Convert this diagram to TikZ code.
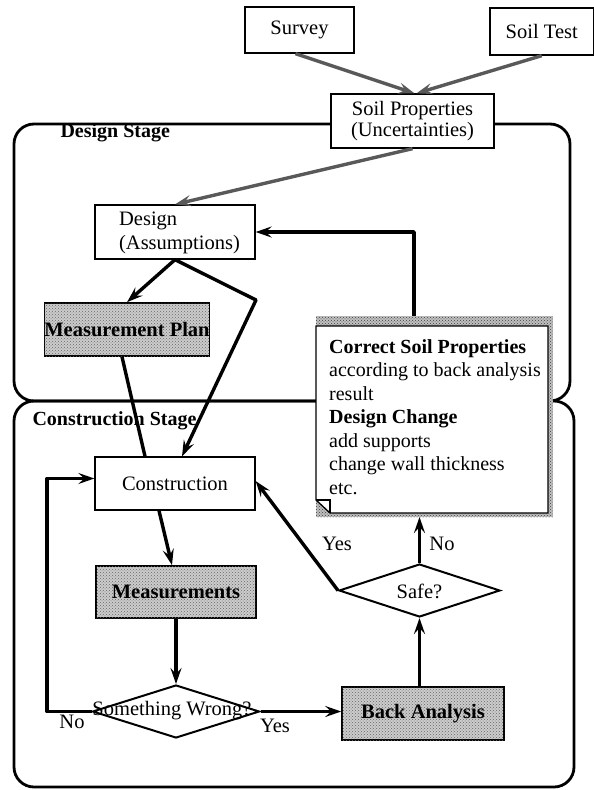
\documentclass[tikz,border=0pt]{standalone}
\usepackage{fontspec}
\setmainfont{Liberation Serif}
\usetikzlibrary{arrows.meta,shapes.geometric,patterns}

\tikzset{
  txt/.style={font=\fontsize{20.5}{21}\selectfont},
  plainbox/.style={draw, line width=1.3pt, fill=white, inner sep=0pt, txt},
  shadebox/.style={draw, line width=1.6pt, fill=black!20, inner sep=0pt,
    postaction={pattern=crosshatch dots, pattern color=black!60},
    font=\fontsize{20.5}{21}\selectfont\bfseries},
  decision/.style={diamond, draw, line width=2pt, fill=white, inner sep=0pt},
  stageframe/.style={line width=2.8pt, rounded corners=20pt},
  stagelabel/.style={font=\fontsize{20}{21}\selectfont\bfseries, anchor=west},
  flow/.style={line width=3.4pt, line join=round,
    -{Stealth[length=16pt,width=11pt,inset=6pt]}},
  plainflow/.style={line width=3.4pt, line join=round},
  inflow/.style={flow, draw=black!65},
  answer/.style={txt},
  noteline/.style={font=\fontsize{20}{23.5}\selectfont, anchor=base west, inner sep=0pt}
}

\begin{document}
\begin{tikzpicture}[x=1pt,y=-1pt]
  \useasboundingbox (0,0) rectangle (594,790);

  % stage frames
  \draw[stageframe] (14,124) rectangle (570,401);
  \draw[stageframe] (14,401) rectangle (574,787);
  \node[stagelabel] (dstage) at (57,133) {Design Stage};
  \node[stagelabel] (cstage) at (29,421) {Construction Stage};

  % site investigation
  \node[plainbox, minimum width=109pt, minimum height=46pt] (survey) at (299.5,30) {Survey};
  \node[plainbox, minimum width=103.5pt, minimum height=47pt] (soiltest) at (541.75,31.5) {Soil Test};
  \node[plainbox, align=center, minimum width=163pt, minimum height=54pt] (soilprop) at (412.5,121)
    {Soil Properties\\(Uncertainties)};

  % design stage
  \node[plainbox, minimum width=160pt, minimum height=54pt] (design) at (175,232) {};
  \node[txt, align=left, inner sep=0pt, font=\fontsize{20.5}{24}\selectfont] (designtxt) at (179.5,233)
    {Design\\(Assumptions)};
  \node[shadebox, minimum width=160pt, minimum height=53pt] (mplan) at (127,329.5) {Measurement Plan};

  % construction stage
  \node[plainbox, minimum width=160pt, minimum height=53pt] (constr) at (175,483.5) {Construction};
  \node[shadebox, minimum width=160pt, minimum height=52pt] (meas) at (176,592) {Measurements};
  \node[decision, minimum width=167pt, minimum height=53pt] (wrong) at (176,711.5) {};
  \node[txt, inner sep=0pt] (wrongtxt) at (172,711) {Something Wrong?};
  \node[shadebox, minimum width=162pt, minimum height=53pt] (back) at (423,713.5) {Back Analysis};
  \node[decision, minimum width=161pt, minimum height=53pt] (safe) at (419.5,590.5) {};
  \node[txt, inner sep=0pt] (safetxt) at (419.5,591) {Safe?};

  % note with folded corner and shaded border
  \fill[black!25, postaction={pattern=crosshatch dots, pattern color=black!75}]
    (316,316) rectangle (553,517);
  \draw[line width=1.3pt, fill=white]
    (316,326) -- (548,326) -- (548,513) -- (330,513) -- (316,500) -- cycle;
  \draw[line width=1.3pt] (316,500) -- (330,500) -- (330,513);
  \coordinate (notetop) at (414,316);
  \coordinate (notebottom) at (419.5,517);
  \node[noteline, font=\fontsize{20}{23.5}\selectfont\bfseries] (nl1) at (329,353) {Correct Soil Properties};
  \node[noteline] (nl2) at (329,376.5) {according to back analysis};
  \node[noteline] (nl3) at (329,400) {result};
  \node[noteline, font=\fontsize{20}{23.5}\selectfont\bfseries] (nl4) at (329,423.5) {Design Change};
  \node[noteline] (nl5) at (329,447) {add supports};
  \node[noteline] (nl6) at (329,470.5) {change wall thickness};
  \node[noteline] (nl7) at (329,494) {etc.};

  % connectors
  \draw[inflow] ([xshift=-4pt]survey.south) -- ([xshift=2pt]soilprop.north);
  \draw[inflow] (soiltest.south) -- ([xshift=4pt]soilprop.north);
  \draw[inflow] (soilprop.south) -- (design.north);
  \draw[flow] (design.south) -- (mplan.north);
  \coordinate (bend) at (256,300);
  \draw[flow] (design.south) -- (bend) -- ([xshift=7pt]constr.north);
  \draw[plainflow] ([xshift=-5pt]mplan.south) -- ([xshift=-30pt]constr.north);
  \draw[flow] (notetop) |- (design.east);
  \draw[flow] ([xshift=-16pt]constr.south) -- ([xshift=-4pt]meas.north);
  \draw[flow] (meas.south) -- (wrong.north);
  \coordinate (loopcorner) at (47,711.5);
  \draw[flow] (wrong.west) -- (loopcorner) |- ([yshift=5pt]constr.west);
  \draw[flow] (wrong.east) -- (wrong.east -| back.west);
  \draw[flow] (safe.south |- back.north) -- (safe.south);
  \draw[flow] (safe.north) -- (notebottom);
  \draw[flow] (safe.west) -- ([yshift=2.5pt]constr.east);

  % branch labels
  \node[answer] (yes1) at (337,544) {Yes};
  \node[answer] (no1) at (442,544) {No};
  \node[answer] (no2) at (72,722) {No};
  \node[answer] (yes2) at (275,726) {Yes};
\end{tikzpicture}
\end{document}
